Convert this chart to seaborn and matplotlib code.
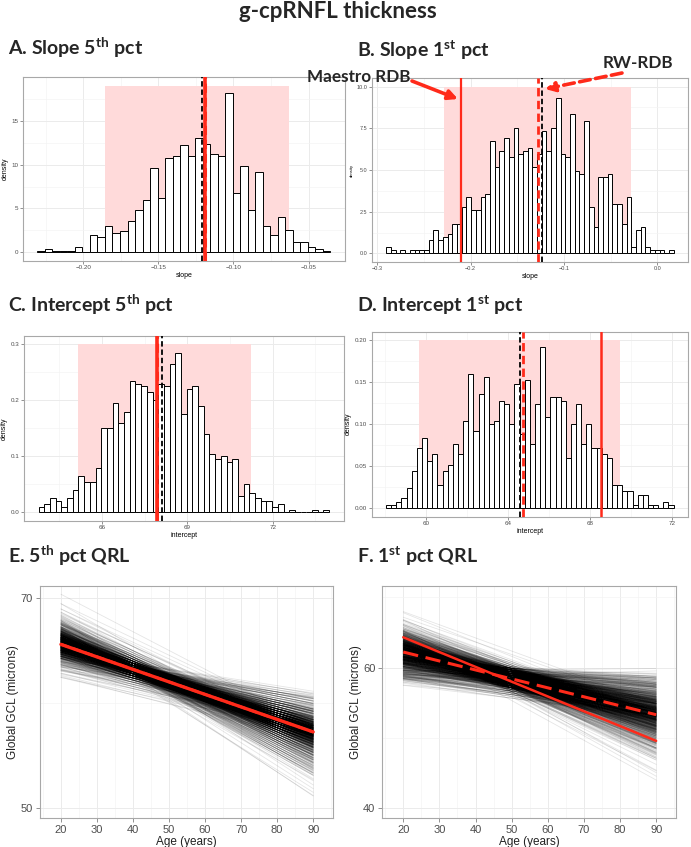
import numpy as np
import pandas as pd
import matplotlib
matplotlib.use('Agg')
import matplotlib.pyplot as plt
from matplotlib.ticker import MultipleLocator, FixedLocator
import seaborn as sns

W, H = 691, 847

# ---- bootstrap histograms (density per bin) ----
# A. slope, 5th pct
slope5_start, slope5_bw, slope5_unit = -0.2305, 0.005, 0.2
slope5_density = [0.2, 0.4, 0.2, 0.2, 0.2, 0.6, 0, 2.0, 1.8, 3.0, 2.2, 2.4, 3.6, 4.8, 6.0,
                  9.6, 6.2, 10.8, 11.0, 12.2, 11.0, 13.0, 12.4, 11.2, 11.0, 18.2, 6.8, 9.8,
                  4.8, 9.2, 3.0, 2.0, 4.0, 2.6, 1.2, 1.2, 0.6, 0.4, 0.2]
slope5_ci = [-0.1855, -0.0628]
slope5_ci_top = 19.0
slope5_maestro, slope5_rw, slope5_median = -0.1187, -0.1190, -0.1207

# B. slope, 1st pct
slope1_start, slope1_bw, slope1_unit = -0.2901, 0.00504, 0.2
slope1_density = [0.4, 0.2, 0, 0.2, 0, 0.2, 0.2, 0.2, 0.2, 0.8, 1.4, 0.8, 1.0, 1.2, 1.8, 1.8,
                  2.8, 3.4, 2.6, 2.6, 3.4, 3.6, 6.8, 5.2, 6.2, 7.0, 5.8, 7.6, 6.0, 6.2, 6.4,
                  5.2, 6.0, 7.4, 6.2, 7.6, 9.4, 6.0, 5.8, 8.4, 5.0, 4.8, 8.0, 2.8, 1.6, 4.6,
                  4.6, 4.8, 3.0, 3.0, 1.8, 3.4, 0.4, 1.4, 1.6, 0.4, 0.2, 0.2, 0.2, 0, 0.2]
slope1_ci = [-0.2285, -0.0287]
slope1_ci_top = 10.0
slope1_maestro, slope1_rw, slope1_median = -0.2104, -0.1273, -0.1234

# C. intercept, 5th pct
int5_start, int5_bw, int5_unit = 63.78, 0.2, 0.005
int5_density = [0.010, 0.015, 0.025, 0.020, 0.010, 0.025, 0.040, 0.065, 0.055, 0.055, 0.080,
                0.150, 0.150, 0.195, 0.160, 0.180, 0.235, 0.230, 0.225, 0.215, 0.200,
                0.230, 0.225, 0.265, 0.285, 0.175, 0.220, 0.225, 0.190, 0.140, 0.105,
                0.095, 0.100, 0.090, 0.095, 0.030, 0.050, 0.035, 0.025, 0.020, 0.020,
                0.010, 0.015, 0, 0.005, 0, 0, 0, 0.005, 0, 0.005]
int5_ci = [65.15, 71.23]
int5_ci_top = 0.3
int5_maestro, int5_rw, int5_median = 67.93, 67.95, 68.13

# D. intercept, 1st pct
int1_start, int1_bw, int1_unit = 58.07, 0.25, 0.004
int1_density = [0.004, 0.004, 0.008, 0.012, 0.024, 0.044, 0.072, 0.084, 0.056, 0.064, 0.028,
                0.044, 0.052, 0.076, 0.064, 0.104, 0.160, 0.092, 0.136, 0.156, 0.100,
                0.104, 0.128, 0.124, 0.100, 0.148, 0.088, 0.152, 0.076, 0.124, 0.192,
                0.108, 0.132, 0.132, 0.128, 0.060, 0.100, 0.124, 0.076, 0.100, 0.072,
                0.072, 0.064, 0.060, 0.028, 0.028, 0.020, 0.020, 0.004, 0.016, 0.016,
                0.004, 0.004, 0, 0.008, 0.004]
int1_ci = [59.65, 69.47]
int1_ci_top = 0.2
int1_maestro, int1_rw, int1_median = 68.52, 64.76, 64.57

ages = [20, 90]

RED = '#FF2A1A'
PINK = '#FFDADA'

sns.set_theme(style='white')
plt.rcParams['font.family'] = ['Liberation Sans', 'DejaVu Sans']
plt.rcParams['mathtext.fontset'] = 'custom'
plt.rcParams['mathtext.rm'] = 'Lato'
plt.rcParams['mathtext.bf'] = 'Lato:bold'

fig = plt.figure(figsize=(W / 100, H / 100), dpi=100)


def px_axes(l, t, r, b):
    return fig.add_axes([l / W, 1 - b / H, (r - l) / W, (b - t) / H])


def style(ax, fs):
    ax.set_facecolor('white')
    ax.grid(which='major', color='#EBEBEB', lw=0.7)
    ax.grid(which='minor', color='#F3F3F3', lw=0.45)
    ax.set_axisbelow(True)
    for s in ax.spines.values():
        s.set_visible(True)
        s.set_color('#A8A8A8')
        s.set_linewidth(0.8)
    ax.tick_params(which='major', bottom=True, left=True, length=2, width=0.5,
                   color='#666666', labelcolor='#4D4D4D', labelsize=fs, pad=1.2)
    ax.tick_params(which='minor', length=0)


def hist_panel(ax, start, bw, dens, ci, ci_top, maestro, rw, median, xlabel,
               xmaj, ymaj, ylim, lw_red, lw_rw, fs=4.5, yfmt=None):
    nb = len(dens)
    lo, hi = start, start + bw * nb
    centers = start + bw * (np.arange(nb) + 0.5)
    df = pd.DataFrame({'value': centers, 'density': dens})
    ax.fill_between(ci, 0, ci_top, color=PINK, lw=0, zorder=1)
    sns.histplot(data=df, x='value', weights='density', bins=nb, binrange=(lo, hi),
                 stat='density', color='white', edgecolor='black', linewidth=0.7,
                 alpha=1, ax=ax, zorder=2)
    ax.axvline(median, color='black', lw=1.3, ls=(0, (3, 1.6)), zorder=3)
    ax.axvline(maestro, color=RED, lw=lw_red, zorder=4)
    ax.axvline(rw, color=RED, lw=lw_rw, ls=(0, (3, 1.6)), zorder=5)
    pad = 0.05 * (hi - lo)
    ax.set_xlim(lo - pad, hi + pad)
    ax.set_ylim(*ylim)
    ax.xaxis.set_major_locator(MultipleLocator(xmaj))
    ax.xaxis.set_minor_locator(MultipleLocator(xmaj / 2))
    ax.yaxis.set_major_locator(MultipleLocator(ymaj))
    ax.yaxis.set_minor_locator(MultipleLocator(ymaj / 2))
    if yfmt:
        ax.yaxis.set_major_formatter(yfmt)
    style(ax, fs)
    ax.set_xlabel(xlabel, fontsize=5, color='black', labelpad=1)
    ax.set_ylabel('density', fontsize=5, color='black', labelpad=2)
    return centers


axA = px_axes(22.7, 77.3, 345, 260.7)
cA = hist_panel(axA, slope5_start, slope5_bw, slope5_density, slope5_ci, slope5_ci_top,
                slope5_maestro, slope5_rw, slope5_median, 'slope', 0.05, 5,
                (-0.95, 19.95), 2.6, 2.2, yfmt='{x:.0f}')
axA.xaxis.set_major_formatter('{x:.2f}')

axB = px_axes(372, 78.3, 688, 261.7)
cB = hist_panel(axB, slope1_start, slope1_bw, slope1_density, slope1_ci, slope1_ci_top,
                slope1_maestro, slope1_rw, slope1_median, 'slope', 0.1, 2.5,
                (-0.5, 10.5), 1.6, 2.0, fs=4.0, yfmt='{x:.1f}')
axB.xaxis.set_major_formatter('{x:.1f}')
axB.set_ylabel('density', fontsize=3, labelpad=2)

axC = px_axes(24, 336, 343.7, 520.7)
cC = hist_panel(axC, int5_start, int5_bw, int5_density, int5_ci, int5_ci_top,
                int5_maestro, int5_rw, int5_median, 'intercept', 3, 0.1,
                (-0.015, 0.315), 2.6, 2.2, yfmt='{x:.1f}')

axD = px_axes(371.7, 331.7, 688, 516.7)
cD = hist_panel(axD, int1_start, int1_bw, int1_density, int1_ci, int1_ci_top,
                int1_maestro, int1_rw, int1_median, 'intercept', 4, 0.05,
                (-0.01, 0.21), 1.8, 2.0, yfmt='{x:.2f}')


# ---- quantile regression lines from the bootstrap (intercept, slope) pairs ----
# intercepts and slopes are strongly negatively tied; pairing by rank with a
# fixed low-discrepancy offset keeps the fan from pinching to a single point
def bootstrap_lines(int_centers, int_dens, int_unit, sl_centers, sl_dens, sl_unit, mix):
    ints = np.sort(np.repeat(int_centers, np.rint(np.array(int_dens) / int_unit).astype(int)))
    sls = np.sort(np.repeat(sl_centers, np.rint(np.array(sl_dens) / sl_unit).astype(int)))[::-1]
    n = min(len(ints), len(sls))
    ints, sls = ints[:n], sls[:n]
    rank = np.arange(n)
    offset = (rank * 0.6180339887) % 1 - 0.5
    order = np.argsort(np.argsort(rank + mix * n * offset))
    sls = sls[order]
    rows = []
    for i in range(n):
        for a in ages:
            rows.append((i, a, ints[i] + sls[i] * a))
    return pd.DataFrame(rows, columns=['draw', 'age', 'gcl'])


def line_panel(ax, df, maestro, rw, ylim, ymaj, ymin, lw_red, lw_rw, dash):
    sns.lineplot(data=df, x='age', y='gcl', units='draw', estimator=None, color='black',
                 alpha=0.1, lw=0.6, ax=ax, legend=False)
    a = np.array(ages)
    sns.lineplot(x=a, y=maestro[0] + maestro[1] * a, color=RED, lw=lw_red, ax=ax)
    sns.lineplot(x=a, y=rw[0] + rw[1] * a, color=RED, lw=lw_rw, ls=(0, dash), ax=ax)
    ax.set_xlim(14.2, 95.5)
    ax.set_ylim(*ylim)
    ax.xaxis.set_major_locator(MultipleLocator(10))
    ax.xaxis.set_minor_locator(MultipleLocator(5))
    ax.yaxis.set_major_locator(FixedLocator(ymaj))
    ax.yaxis.set_minor_locator(FixedLocator(ymin))
    style(ax, 8)
    ax.tick_params(which='major', length=3, pad=2)
    ax.set_xlabel('Age (years)', fontsize=8.5, color='#222222', labelpad=1)
    ax.set_ylabel('Global GCL (microns)', fontsize=8.5, color='#222222', labelpad=1)


dfE = bootstrap_lines(cC, int5_density, int5_unit, cA, slope5_density, slope5_unit, 0.3)
axE = px_axes(40, 586, 333, 817.7)
line_panel(axE, dfE, (int5_maestro, slope5_maestro), (int5_rw, slope5_rw),
           (49.1, 71.1), [50, 70], [60], 2.4, 2.0, (3, 1.5))

dfF = bootstrap_lines(cD, int1_density, int1_unit, cB, slope1_density, slope1_unit, 0.35)
axF = px_axes(382.3, 586, 676, 817.7)
line_panel(axF, dfF, (int1_maestro, slope1_maestro), (int1_rw, slope1_rw),
           (38.66, 71.6), [40, 60], [50, 70], 1.8, 2.2, (5, 2.5))

# ---- titles ----
tkw = dict(fontsize=14, fontweight='bold', family='Lato', va='center', ha='left')
fig.text(338 / W, 1 - 12 / H, 'g-cpRNFL thickness', ha='center', va='center',
         fontsize=16, fontweight='bold', family='Lato')
fig.text(8 / W, 1 - 48 / H, r'A. Slope 5$^{\mathbf{th}}$ pct', **tkw)
fig.text(357 / W, 1 - 50 / H, r'B. Slope 1$^{\mathbf{st}}$ pct', **tkw)
fig.text(8 / W, 1 - 305 / H, r'C. Intercept 5$^{\mathbf{th}}$ pct', **tkw)
fig.text(357 / W, 1 - 305 / H, r'D. Intercept 1$^{\mathbf{st}}$ pct', **tkw)
fig.text(8 / W, 1 - 556 / H, r'E. 5$^{\mathbf{th}}$ pct QRL', **tkw)
fig.text(357 / W, 1 - 556 / H, r'F. 1$^{\mathbf{st}}$ pct QRL', **tkw)

# ---- annotations on panel B ----
fig.text(307 / W, 1 - 77.5 / H, 'Maestro RDB', fontsize=12.3, fontweight='bold',
         family='Lato', va='center', ha='left')
fig.text(603 / W, 1 - 63 / H, 'RW-RDB', fontsize=12.3, fontweight='bold',
         family='Lato', va='center', ha='left')
axB.annotate('', xy=(458, H - 99), xytext=(412, H - 81), xycoords='figure pixels',
             textcoords='figure pixels', annotation_clip=False,
             arrowprops=dict(arrowstyle='-|>', color=RED, lw=2.6, mutation_scale=14,
                             shrinkA=0, shrinkB=0))
axB.annotate('', xy=(545, H - 89), xytext=(622, H - 73), xycoords='figure pixels',
             textcoords='figure pixels', annotation_clip=False,
             arrowprops=dict(arrowstyle='-|>', color=RED, lw=2.6, mutation_scale=14,
                             ls=(0, (3, 1.5)), shrinkA=0, shrinkB=0))

fig.savefig('out.png', dpi=100)
